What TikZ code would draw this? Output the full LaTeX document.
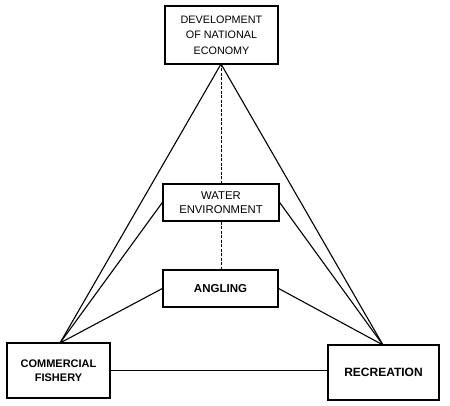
\documentclass[tikz,border=0pt]{standalone}
\usepackage{fontspec}
\setmainfont{Liberation Sans}
\begin{document}
\begin{tikzpicture}[x=1pt,y=-1pt,
  box/.style={draw, line width=1.3pt, inner sep=0pt, align=center},
  conn/.style={line width=1.1pt},
  dconn/.style={line width=1pt, dash pattern=on 3pt off 1.5pt}]
\useasboundingbox (0,0) rectangle (450,406);
\node[box, minimum width=113pt, minimum height=58pt, font=\fontsize{10.8}{15.5}\selectfont] (dev) at (221.5,35) {DEVELOPMENT\\OF NATIONAL\\ECONOMY};
\node[box, minimum width=116pt, minimum height=37pt, font=\fontsize{11.3}{13.5}\selectfont] (water) at (221,202.5) {WATER\\ENVIRONMENT};
\node[box, minimum width=115pt, minimum height=37pt, font=\bfseries\fontsize{11.5}{13.5}\selectfont] (ang) at (220.5,288.5) {ANGLING};
\node[box, minimum width=103pt, minimum height=55pt, font=\bfseries\fontsize{11}{13.5}\selectfont] (com) at (58.5,370.5) {COMMERCIAL\\FISHERY};
\node[box, minimum width=111pt, minimum height=55pt, font=\bfseries\fontsize{12}{14}\selectfont] (rec) at (383.5,372.5) {RECREATION};
\coordinate (ctop) at (60,343);
\coordinate (rtop) at (383,345);
\coordinate (apex) at (221,64);
\draw[conn] (ctop) -- (apex);
\draw[conn] (rtop) -- (apex);
\draw[conn] (ctop) -- (water.west);
\draw[conn] (ctop) -- (ang.west);
\draw[conn] (rtop) -- (water.east);
\draw[conn] (rtop) -- (ang.east);
\draw[conn] (com.east) -- (rec.west |- com.east);
\draw[dconn] (apex) -- (apex |- water.north);
\draw[dconn] (apex |- water.south) -- (apex |- ang.north);
\end{tikzpicture}
\end{document}
